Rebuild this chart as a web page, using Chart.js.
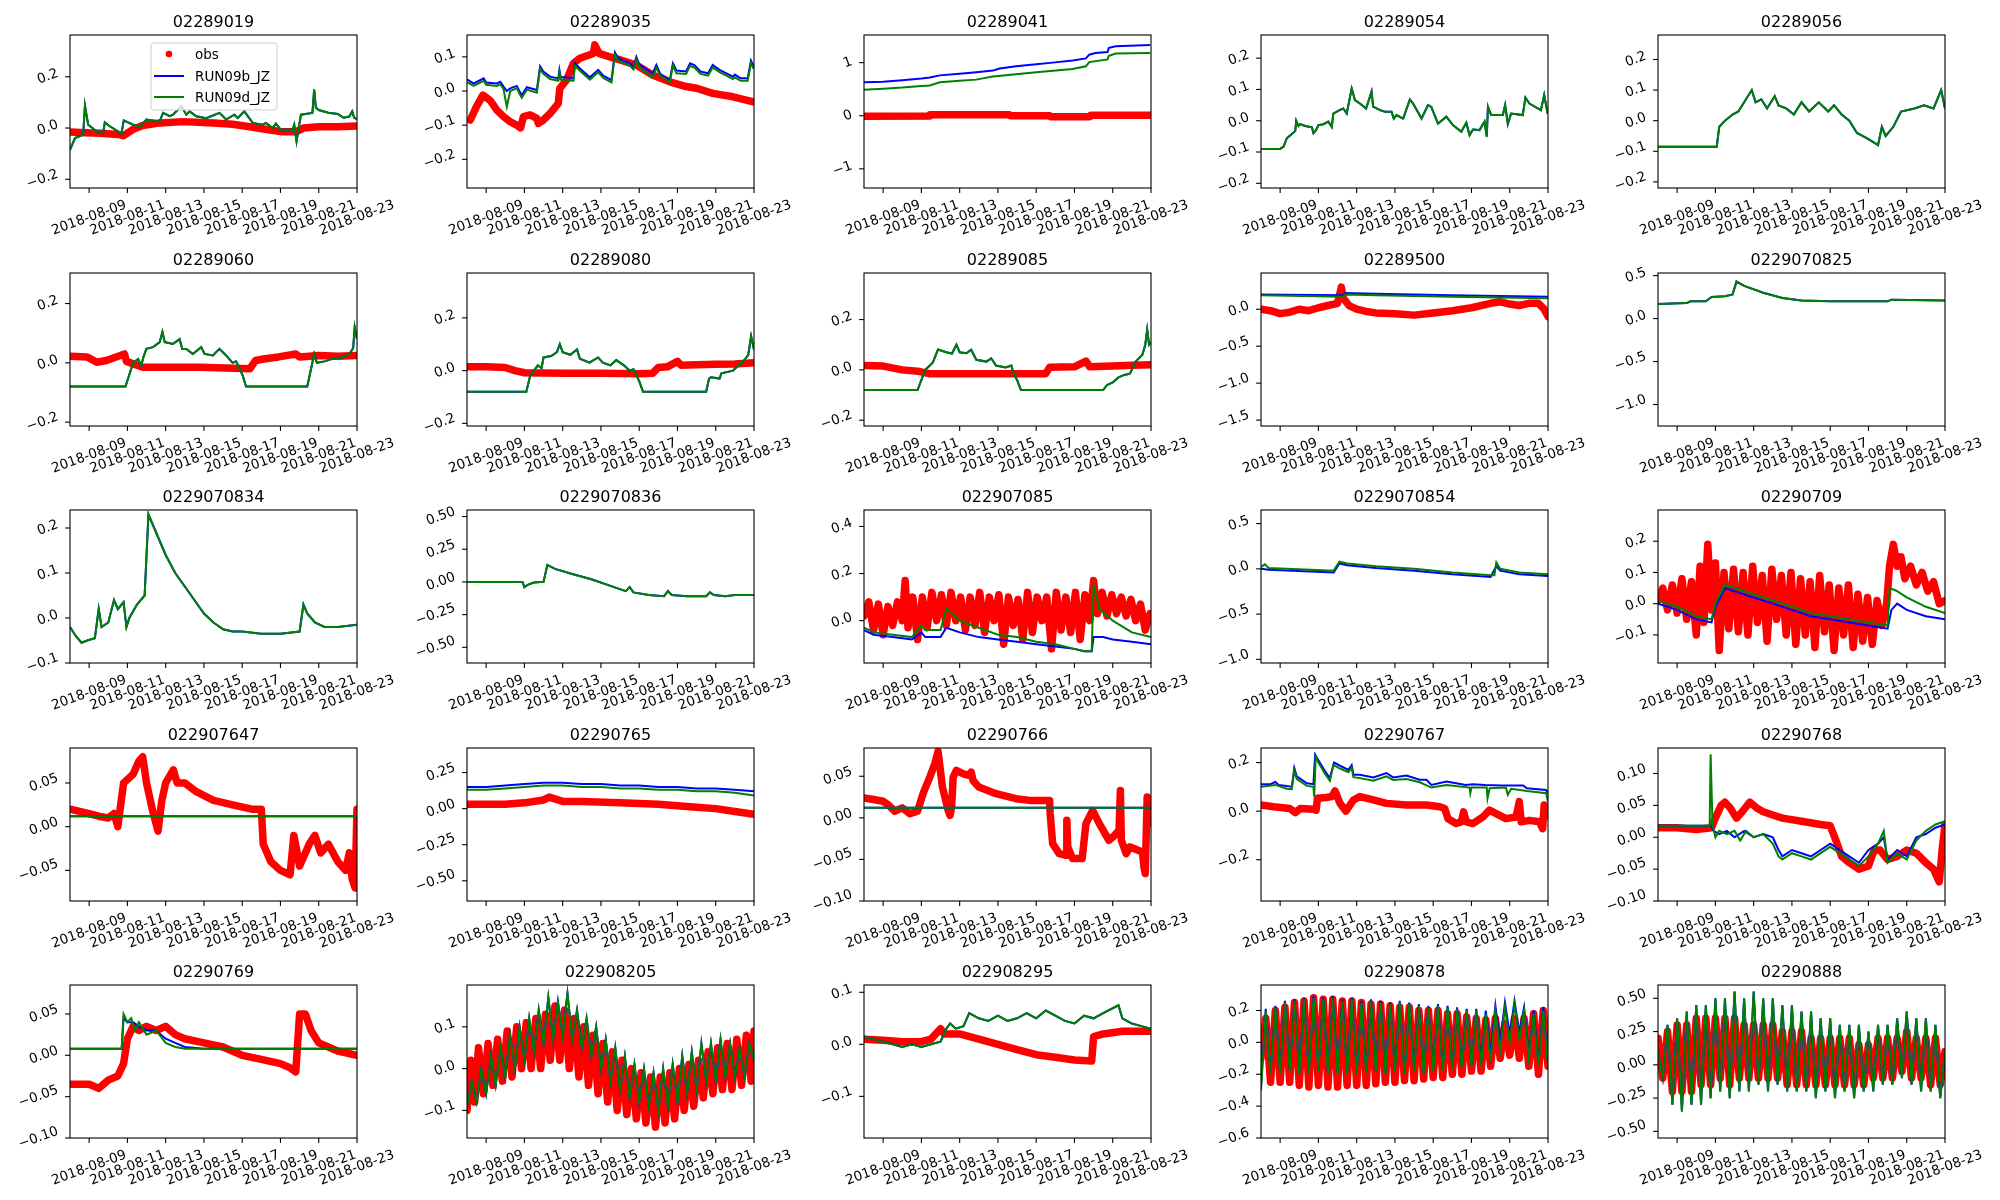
<!DOCTYPE html>
<html>
<head>
<meta charset="utf-8">
<script src="https://cdn.jsdelivr.net/npm/chart.js@4.4.0/dist/chart.umd.min.js"></script>
<style>
  body { margin: 0; background: #fff; width: 2000px; height: 1200px; position: relative; overflow: hidden; }
  canvas { position: absolute; }
</style>
</head>
<body>
<script>
// x values are days since 2018-08-08 00:00
const xTickDays = [1, 3, 5, 7, 9, 11, 13, 15];
const xTickLabels = ["2018-08-09", "2018-08-11", "2018-08-13", "2018-08-15", "2018-08-17", "2018-08-19", "2018-08-21", "2018-08-23"];
const seriesLabels = ["obs", "RUN09b_JZ", "RUN09d_JZ"];

// ---- 02289019
const obs02289019 = [[0,-0.015],[0.8,-0.018],[1.6,-0.02],[2.5,-0.025],[2.8,-0.03],[3.0,-0.02],[3.3,-0.005],[3.8,0.01],[4.7,0.02],[5.9,0.025],[7.5,0.02],[8.5,0.015],[9.4,0.005],[10.2,-0.005],[11.1,-0.015],[11.8,-0.015],[12.2,0.0],[13,0.005],[14,0.005],[15,0.008]];
const d02289019 = [[0,-0.085],[0.26,-0.039],[0.69,-0.026],[0.78,0.088],[0.95,0.013],[1.39,-0.013],[1.74,-0.017],[1.82,0.022],[2.08,0.007],[2.69,-0.022],[2.81,0.03],[3.3,0.013],[3.65,0.004],[3.99,0.033],[4.69,0.026],[4.86,0.059],[5.21,0.046],[5.38,0.052],[5.82,0.085],[6.08,0.052],[6.25,0.065],[6.6,0.046],[7.12,0.038],[7.81,0.059],[8.16,0.033],[8.59,0.052],[8.77,0.039],[9.11,0.065],[9.55,0.02],[10.07,0.013],[10.24,0.02],[10.59,0.0],[10.76,0.017],[11.02,-0.007],[11.63,-0.007],[11.72,0.013],[11.84,-0.052],[12.07,0.052],[12.67,0.059],[12.76,0.15],[12.85,0.08],[13.0,0.07],[13.5,0.06],[14.0,0.055],[14.3,0.04],[14.6,0.045],[14.75,0.065],[14.85,0.04],[15,0.035]];
const b02289019 = d02289019;

// ---- 02289035
const obs02289035 = [[0.17,-0.085],[0.5,-0.045],[0.83,-0.012],[1.2,-0.027],[1.56,-0.056],[1.91,-0.075],[2.26,-0.09],[2.6,-0.1],[2.8,-0.108],[2.95,-0.075],[3.3,-0.07],[3.65,-0.08],[3.73,-0.095],[3.99,-0.085],[4.34,-0.066],[4.77,-0.036],[4.85,0.008],[5.2,0.032],[5.56,0.081],[5.9,0.096],[6.6,0.11],[6.68,0.135],[6.9,0.11],[7.47,0.1],[8.0,0.091],[8.85,0.076],[9.7,0.047],[10.6,0.027],[11.45,0.013],[12.0,0.008],[12.84,-0.007],[13.9,-0.017],[14.92,-0.031]];
const b02289035 = [[0,0.034],[0.35,0.022],[0.87,0.037],[1.0,0.025],[1.56,0.022],[1.74,0.027],[1.91,0.013],[2.08,0.0],[2.26,0.008],[2.6,0.015],[2.86,-0.012],[3.13,0.011],[3.65,0.003],[3.82,0.072],[3.99,0.057],[4.34,0.042],[4.77,0.037],[4.83,0.062],[4.9,0.04],[5.21,0.04],[5.56,0.037],[5.64,0.081],[5.9,0.066],[6.42,0.04],[6.86,0.062],[7.12,0.045],[7.55,0.032],[7.73,0.113],[7.9,0.096],[8.5,0.082],[8.7,0.07],[8.85,0.1],[9.0,0.078],[9.7,0.052],[9.9,0.076],[10.1,0.05],[10.6,0.032],[10.76,0.081],[10.95,0.06],[11.45,0.057],[11.66,0.081],[11.9,0.075],[12.2,0.057],[12.6,0.052],[12.84,0.076],[13.2,0.062],[13.9,0.042],[14.0,0.048],[14.3,0.037],[14.67,0.037],[14.84,0.089],[14.98,0.072]];
const d02289035 = [[0,0.026],[0.35,0.015],[0.87,0.03],[1.0,0.018],[1.56,0.015],[1.74,0.02],[1.91,0.005],[2.08,-0.046],[2.26,0.0],[2.6,0.008],[2.86,-0.02],[3.13,0.004],[3.65,-0.005],[3.82,0.065],[3.99,0.05],[4.34,0.035],[4.77,0.03],[4.83,0.055],[4.9,0.033],[5.21,0.033],[5.56,0.03],[5.64,0.074],[5.9,0.059],[6.42,0.033],[6.86,0.055],[7.12,0.038],[7.55,0.025],[7.73,0.106],[7.9,0.089],[8.5,0.075],[8.7,0.063],[8.85,0.093],[9.0,0.07],[9.7,0.04],[9.9,0.068],[10.1,0.045],[10.6,0.027],[10.76,0.074],[10.95,0.052],[11.45,0.05],[11.66,0.074],[11.9,0.068],[12.2,0.05],[12.6,0.045],[12.84,0.069],[13.2,0.055],[13.9,0.035],[14.0,0.04],[14.3,0.03],[14.67,0.03],[14.84,0.082],[14.98,0.065]];

// ---- 02289041
const obs02289041 = [[0,-0.01],[3.44,-0.005],[3.45,0.02],[7.6,0.02],[7.65,0.0],[9.7,0.0],[9.75,-0.02],[11.8,-0.02],[11.85,0.01],[15,0.01]];
const b02289041 = [[0,0.63],[1,0.64],[2,0.67],[3,0.7],[3.44,0.72],[3.96,0.76],[5.0,0.79],[5.87,0.82],[6.74,0.85],[7.09,0.89],[7.95,0.93],[9.0,0.97],[9.86,1.0],[10.9,1.04],[11.6,1.08],[11.77,1.15],[12.1,1.18],[12.73,1.2],[12.8,1.28],[13.16,1.31],[14.95,1.33]];
const d02289041 = [[0,0.49],[1,0.51],[2,0.53],[3,0.56],[3.44,0.57],[3.96,0.63],[5.0,0.66],[5.87,0.68],[6.74,0.74],[7.95,0.78],[9.0,0.82],[10.9,0.88],[11.6,0.93],[11.77,1.01],[12.73,1.06],[12.8,1.13],[13.16,1.17],[14.95,1.18]];

// ---- 02289054
const obs02289054 = [];
const d02289054 = [[0,-0.09],[1.0,-0.09],[1.18,-0.083],[1.35,-0.056],[1.7,-0.038],[1.79,-0.033],[1.84,0.0],[1.96,-0.017],[2.05,-0.011],[2.31,-0.017],[2.66,-0.021],[2.74,-0.04],[2.88,-0.03],[3.0,-0.014],[3.26,-0.011],[3.52,-0.003],[3.7,-0.02],[3.78,0.023],[4.1,0.034],[4.3,0.039],[4.48,0.023],[4.74,0.103],[4.91,0.066],[5.17,0.055],[5.49,0.039],[5.78,0.093],[5.86,0.045],[6.22,0.034],[6.48,0.029],[6.82,0.029],[6.94,0.007],[7.08,0.018],[7.43,0.007],[7.78,0.068],[7.95,0.055],[8.39,0.007],[8.73,0.05],[8.9,0.044],[9.25,-0.009],[9.69,0.013],[10.03,-0.014],[10.47,-0.035],[10.73,-0.006],[10.9,-0.046],[11.08,-0.028],[11.42,-0.03],[11.68,-0.003],[11.8,-0.051],[11.86,0.045],[12.03,0.018],[12.64,0.018],[12.76,0.05],[12.9,-0.011],[13.07,0.023],[13.68,0.018],[13.82,0.074],[14.03,0.055],[14.63,0.034],[14.8,0.082],[14.98,0.023]];
const b02289054 = d02289054;

// ---- 02289056
const obs02289056 = [];
const d02289056 = [[0,-0.085],[3.07,-0.085],[3.2,-0.02],[3.5,0.0],[3.9,0.02],[4.2,0.03],[4.9,0.1],[5.1,0.06],[5.4,0.07],[5.7,0.04],[6.1,0.08],[6.3,0.05],[6.7,0.04],[7.1,0.02],[7.5,0.06],[7.9,0.03],[8.4,0.06],[8.9,0.03],[9.2,0.05],[9.6,0.02],[10.0,0.0],[10.4,-0.04],[11.0,-0.06],[11.5,-0.08],[11.7,-0.02],[11.9,-0.05],[12.3,-0.02],[12.7,0.03],[13.4,0.04],[13.9,0.05],[14.4,0.04],[14.8,0.1],[15,0.04]];
const b02289056 = d02289056;

// ---- 02289060
const obs02289060 = [[0,0.022],[0.9,0.02],[1.4,0.002],[1.9,0.008],[2.85,0.03],[2.95,0.005],[3.8,-0.015],[5.0,-0.015],[6.8,-0.015],[8.5,-0.018],[9.4,-0.02],[9.7,0.008],[10.2,0.014],[10.9,0.02],[11.8,0.03],[12.0,0.02],[13,0.025],[14,0.022],[15,0.025]];
const d02289060 = [[0,-0.08],[2.9,-0.08],[3.1,-0.04],[3.3,0.0],[3.56,0.013],[3.73,-0.01],[3.82,0.016],[3.99,0.047],[4.34,0.053],[4.69,0.07],[4.83,0.104],[4.95,0.07],[5.38,0.064],[5.73,0.08],[5.87,0.047],[6.08,0.047],[6.42,0.03],[6.86,0.053],[7.03,0.03],[7.47,0.025],[7.81,0.047],[8.16,0.025],[8.5,0.0],[8.68,0.005],[9.03,-0.043],[9.2,-0.08],[12.4,-0.08],[12.6,-0.02],[12.76,0.03],[12.9,0.0],[13.3,0.005],[13.8,0.015],[14.3,0.02],[14.6,0.03],[14.8,0.05],[14.88,0.12],[15,0.08]];
const b02289060 = d02289060;

// ---- 02289080
const obs02289080 = [[0,0.015],[1,0.015],[2,0.012],[2.5,0.0],[3.0,-0.008],[5,-0.01],[7,-0.01],[9,-0.012],[9.7,-0.01],[10.0,0.012],[10.5,0.015],[11.0,0.035],[11.2,0.02],[12,0.022],[13,0.024],[14,0.025],[15,0.03]];
const d02289080 = [[0,-0.08],[3.1,-0.08],[3.3,-0.02],[3.5,0.0],[3.7,0.02],[3.9,0.01],[4.0,0.05],[4.4,0.055],[4.7,0.07],[4.85,0.1],[5.0,0.07],[5.4,0.06],[5.75,0.08],[5.9,0.045],[6.4,0.03],[6.85,0.05],[7.1,0.03],[7.5,0.02],[7.8,0.04],[8.2,0.02],[8.5,0.0],[8.7,0.005],[9.0,-0.04],[9.2,-0.08],[12.5,-0.08],[12.65,-0.03],[12.75,-0.025],[13.2,-0.03],[13.3,-0.01],[13.9,0.0],[14.2,0.02],[14.5,0.04],[14.7,0.06],[14.85,0.13],[15,0.08]];
const b02289080 = d02289080;

// ---- 02289085
const obs02289085 = [[0,0.017],[1,0.015],[2,0.0],[2.8,-0.005],[3.4,-0.015],[6,-0.015],[9.5,-0.015],[9.7,0.01],[11.0,0.012],[11.6,0.035],[11.8,0.012],[13,0.015],[14,0.018],[15,0.02]];
const d02289085 = [[0,-0.08],[2.8,-0.08],[3.0,-0.04],[3.2,0.0],[3.44,0.017],[3.6,0.03],[3.87,0.081],[4.3,0.07],[4.6,0.065],[4.83,0.1],[5.0,0.07],[5.35,0.066],[5.6,0.08],[5.87,0.04],[6.4,0.033],[6.65,0.046],[6.9,0.017],[7.4,0.01],[7.7,0.017],[7.8,-0.01],[8.0,-0.04],[8.2,-0.08],[12.5,-0.08],[12.7,-0.06],[13.0,-0.05],[13.3,-0.03],[13.6,-0.02],[13.9,-0.015],[14.2,0.033],[14.55,0.06],[14.7,0.1],[14.8,0.16],[14.9,0.1],[15,0.11]];
const b02289085 = d02289085;

// ---- 02289500
const obs02289500 = [[0,0.0],[0.5,-0.02],[1.0,-0.06],[1.5,-0.04],[2.0,0.0],[2.5,-0.02],[3.0,0.02],[3.5,0.05],[4.0,0.08],[4.2,0.3],[4.3,0.15],[4.6,0.05],[5,0.0],[5.5,-0.03],[6,-0.05],[7,-0.06],[8,-0.08],[9,-0.05],[10,-0.02],[11,0.02],[12,0.08],[12.5,0.1],[13,0.07],[13.5,0.05],[14,0.08],[14.5,0.08],[14.8,0.0],[15,-0.1]];
const b02289500 = [[0,0.2],[4.3,0.19],[4.4,0.22],[6,0.21],[10,0.19],[15,0.17]];
const d02289500 = [[0,0.19],[4.3,0.17],[4.4,0.2],[6,0.19],[10,0.17],[15,0.15]];

// ---- 0229070825
const obs0229070825 = [];
const d0229070825 = [[0,0.17],[1.5,0.18],[1.7,0.2],[2.5,0.2],[2.8,0.25],[3.5,0.26],[3.9,0.28],[4.1,0.43],[4.5,0.38],[5.5,0.3],[6.5,0.24],[7.5,0.21],[9,0.2],[11,0.2],[12,0.2],[12.2,0.22],[15,0.21]];
const b0229070825 = d0229070825;

// ---- 0229070834
const obs0229070834 = [];
const d0229070834 = [[0,-0.02],[0.3,-0.04],[0.6,-0.055],[0.9,-0.05],[1.3,-0.045],[1.5,0.02],[1.65,-0.02],[2.0,-0.01],[2.3,0.04],[2.5,0.02],[2.8,0.035],[2.95,-0.02],[3.1,0.0],[3.5,0.03],[3.9,0.05],[4.1,0.23],[4.5,0.19],[5,0.14],[5.5,0.1],[6,0.07],[6.5,0.04],[7,0.01],[7.5,-0.01],[8,-0.025],[8.5,-0.03],[9,-0.03],[10,-0.035],[11,-0.035],[12,-0.03],[12.2,0.03],[12.4,0.01],[12.8,-0.01],[13.3,-0.02],[14,-0.02],[15,-0.015]];
const b0229070834 = d0229070834;

// ---- 0229070836
const obs0229070836 = [];
const d0229070836 = [[0,0.0],[2.9,0.0],[3.0,-0.04],[3.2,-0.02],[3.5,-0.005],[4.0,0.0],[4.2,0.13],[4.6,0.1],[5.5,0.06],[6.5,0.02],[7.5,-0.03],[8.3,-0.07],[8.5,-0.04],[8.7,-0.08],[9.5,-0.1],[10.3,-0.11],[10.5,-0.07],[10.7,-0.1],[11.5,-0.11],[12.5,-0.11],[12.7,-0.08],[12.9,-0.1],[13.5,-0.11],[14,-0.1],[15,-0.1]];
const b0229070836 = d0229070836;

// ---- 022907085
const obs022907085 = [[0,0.02],[0.25,0.08],[0.5,-0.04],[0.75,0.07],[1.0,-0.06],[1.25,0.06],[1.5,-0.02],[1.75,0.08],[2.0,0.0],[2.15,0.17],[2.3,-0.03],[2.55,0.1],[2.8,-0.08],[3.05,0.1],[3.3,-0.03],[3.55,0.12],[3.8,0.0],[4.05,0.11],[4.3,-0.02],[4.55,0.12],[4.8,0.0],[5.05,0.1],[5.3,-0.04],[5.55,0.1],[5.8,-0.02],[6.05,0.12],[6.3,-0.05],[6.55,0.1],[6.8,0.0],[7.05,0.11],[7.3,-0.1],[7.55,0.1],[7.8,-0.02],[8.05,0.09],[8.3,-0.08],[8.55,0.12],[8.8,-0.05],[9.05,0.1],[9.3,0.0],[9.55,0.1],[9.8,-0.12],[10.05,0.12],[10.3,-0.04],[10.55,0.1],[10.8,-0.05],[11.05,0.12],[11.3,-0.08],[11.55,0.11],[11.8,0.0],[12.0,0.17],[12.2,0.03],[12.45,0.12],[12.7,0.02],[12.95,0.11],[13.2,0.03],[13.45,0.1],[13.7,0.02],[13.95,0.09],[14.2,0.0],[14.45,0.07],[14.7,-0.04],[14.95,0.03]];
const b022907085 = [[0,-0.04],[0.5,-0.06],[1.5,-0.07],[2.5,-0.08],[3.0,-0.05],[3.2,-0.07],[4.0,-0.07],[4.3,-0.03],[5,-0.05],[6,-0.07],[7,-0.08],[8,-0.09],[9,-0.1],[10,-0.11],[11,-0.12],[11.5,-0.13],[11.9,-0.13],[12.0,-0.07],[12.5,-0.07],[13,-0.08],[14,-0.09],[15,-0.1]];
const d022907085 = [[0,-0.03],[0.5,-0.05],[1.5,-0.06],[2.5,-0.07],[3.0,-0.02],[3.2,-0.04],[4.0,-0.04],[4.3,0.05],[4.6,0.03],[5,0.0],[6,-0.03],[7,-0.06],[8,-0.07],[9,-0.09],[10,-0.1],[11,-0.12],[11.5,-0.13],[11.9,-0.13],[12.0,0.15],[12.3,0.05],[13,0.0],[14,-0.05],[15,-0.07]];

// ---- 0229070854
const obs0229070854 = [];
const b0229070854 = [[0,0.0],[0.4,-0.01],[3.8,-0.04],[4.1,0.06],[4.5,0.04],[6,0.01],[8,-0.02],[10,-0.06],[12,-0.09],[12.3,0.03],[12.5,-0.02],[13.5,-0.06],[15,-0.08]];
const d0229070854 = [[0,0.02],[0.2,0.05],[0.4,0.01],[3.8,-0.02],[4.1,0.08],[4.5,0.06],[6,0.03],[8,0.0],[10,-0.04],[12,-0.07],[12.2,-0.07],[12.3,0.07],[12.5,0.0],[13.5,-0.04],[15,-0.06]];

// ---- 02290709
const obs02290709 = [[0,0.01],[0.25,0.05],[0.5,-0.02],[0.75,0.06],[1.0,-0.03],[1.25,0.08],[1.5,-0.05],[1.75,0.07],[2.0,-0.1],[2.2,0.12],[2.4,-0.06],[2.6,0.19],[2.8,-0.02],[3.0,0.13],[3.2,-0.15],[3.45,0.1],[3.7,-0.08],[3.95,0.11],[4.2,-0.09],[4.45,0.1],[4.7,-0.1],[4.95,0.12],[5.2,-0.06],[5.45,0.09],[5.7,-0.12],[5.95,0.11],[6.2,-0.05],[6.45,0.09],[6.7,-0.1],[6.95,0.1],[7.2,-0.13],[7.45,0.08],[7.7,-0.1],[7.95,0.07],[8.2,-0.14],[8.45,0.09],[8.7,-0.09],[8.95,0.06],[9.2,-0.15],[9.45,0.05],[9.7,-0.1],[9.95,0.06],[10.2,-0.14],[10.45,0.03],[10.7,-0.12],[10.95,0.02],[11.2,-0.13],[11.45,0.01],[11.7,-0.07],[11.95,0.0],[12.1,0.12],[12.3,0.19],[12.5,0.12],[12.7,0.15],[12.9,0.08],[13.2,0.12],[13.5,0.06],[13.8,0.1],[14.1,0.04],[14.4,0.07],[14.7,0.0],[15,0.01]];
const b02290709 = [[0,0.0],[0.5,-0.01],[1.0,-0.02],[2.0,-0.05],[2.8,-0.06],[3.0,-0.01],[3.5,0.05],[4.0,0.04],[5,0.02],[6,0.0],[7,-0.02],[8,-0.04],[9,-0.05],[10,-0.06],[11,-0.07],[12,-0.08],[12.2,-0.02],[12.5,0.0],[13,-0.02],[14,-0.04],[15,-0.05]];
const d02290709 = [[0,0.01],[0.5,0.0],[1.0,-0.01],[2.0,-0.04],[2.8,-0.05],[3.0,0.0],[3.5,0.06],[4.0,0.05],[5,0.03],[6,0.01],[7,-0.01],[8,-0.03],[9,-0.04],[10,-0.05],[11,-0.06],[12,-0.07],[12.1,0.05],[12.5,0.04],[13,0.02],[14,-0.01],[15,-0.03]];

// ---- 022907647
const obs022907647 = [[0,0.02],[1,0.015],[1.5,0.012],[2,0.01],[2.3,0.015],[2.5,0.0],[2.8,0.05],[3.3,0.06],[3.6,0.075],[3.8,0.08],[4.0,0.05],[4.3,0.02],[4.6,-0.005],[4.8,0.03],[5.0,0.05],[5.4,0.065],[5.6,0.05],[6.0,0.05],[6.6,0.04],[7.5,0.03],[8.5,0.025],[9.5,0.02],[10.0,0.02],[10.1,-0.02],[10.5,-0.04],[11.0,-0.05],[11.5,-0.055],[11.7,-0.01],[12.0,-0.045],[12.5,-0.02],[12.8,-0.01],[13.1,-0.03],[13.5,-0.02],[14.0,-0.04],[14.4,-0.05],[14.6,-0.03],[14.75,-0.06],[14.9,-0.07],[15,0.02]];
const d022907647 = [[0,0.012],[15,0.012]];
const b022907647 = d022907647;

// ---- 02290765
const obs02290765 = [[0,0.03],[2,0.03],[3,0.04],[4,0.06],[4.3,0.08],[5,0.05],[6,0.05],[8,0.04],[10,0.03],[12,0.01],[13,0.0],[14,-0.02],[15,-0.04]];
const b02290765 = [[0,0.15],[1,0.15],[2,0.16],[3,0.17],[4,0.18],[5,0.18],[6,0.17],[7,0.17],[8,0.16],[9,0.16],[10,0.15],[11,0.15],[12,0.14],[13,0.14],[14,0.13],[15,0.12]];
const d02290765 = [[0,0.13],[1,0.13],[2,0.14],[3,0.15],[4,0.16],[5,0.16],[6,0.15],[7,0.15],[8,0.14],[9,0.14],[10,0.13],[11,0.13],[12,0.12],[13,0.12],[14,0.11],[15,0.09]];

// ---- 02290766
const obs02290766 = [[0,0.024],[0.5,0.022],[1,0.02],[1.3,0.015],[1.6,0.008],[2.0,0.012],[2.4,0.005],[2.8,0.008],[3.1,0.03],[3.44,0.049],[3.7,0.065],[3.87,0.08],[3.95,0.065],[4.1,0.037],[4.4,0.009],[4.5,0.003],[4.58,0.013],[4.66,0.049],[4.83,0.057],[5.2,0.053],[5.5,0.051],[5.6,0.055],[5.7,0.045],[6.0,0.037],[6.9,0.029],[7.95,0.023],[8.65,0.021],[9.7,0.021],[9.73,0.005],[9.86,-0.031],[10.2,-0.043],[10.56,-0.045],[10.6,-0.003],[10.65,-0.035],[10.9,-0.049],[11.4,-0.049],[11.6,-0.007],[11.95,0.009],[12.3,-0.007],[12.8,-0.027],[13.1,-0.021],[13.33,-0.015],[13.4,0.033],[13.45,-0.027],[13.7,-0.043],[13.9,-0.035],[14.55,-0.041],[14.63,-0.059],[14.7,-0.067],[14.8,0.025],[14.9,-0.007],[15,0.01]];
const d02290766 = [[0,0.012],[15,0.012]];
const b02290766 = d02290766;

// ---- 02290767
const obs02290767 = [[0,0.025],[0.66,0.018],[1.5,0.011],[1.8,-0.006],[2.05,0.011],[2.74,0.008],[2.88,0.004],[2.95,0.053],[3.4,0.056],[3.7,0.06],[3.87,0.083],[4.13,0.032],[4.44,0.0],[4.83,0.046],[5.17,0.06],[5.87,0.046],[6.56,0.032],[7.6,0.025],[8.65,0.025],[9.34,0.018],[9.6,0.011],[9.77,-0.031],[10.2,-0.051],[10.47,-0.044],[10.59,-0.003],[10.73,-0.044],[11.07,-0.051],[11.6,-0.024],[11.94,0.004],[12.29,-0.01],[12.8,-0.031],[13.33,-0.024],[13.5,0.039],[13.6,-0.044],[14.03,-0.038],[14.55,-0.044],[14.72,-0.072],[14.8,0.025],[14.9,-0.02]];
const b02290767 = [[0,0.111],[0.5,0.111],[0.75,0.12],[0.92,0.108],[1.35,0.104],[1.61,0.1],[1.74,0.178],[1.87,0.143],[2.4,0.115],[2.74,0.111],[2.83,0.233],[3.0,0.21],[3.35,0.164],[3.6,0.136],[3.82,0.2],[4.05,0.19],[4.57,0.17],[4.74,0.19],[4.83,0.15],[5.17,0.15],[5.87,0.139],[6.56,0.157],[6.9,0.139],[7.6,0.147],[8.3,0.129],[8.65,0.129],[8.9,0.108],[9.7,0.122],[10.2,0.115],[10.7,0.108],[11.07,0.111],[11.7,0.108],[12.6,0.106],[13.7,0.106],[13.9,0.094],[14.9,0.087],[15,0.074]];
const d02290767 = [[0,0.1],[0.75,0.108],[1.35,0.092],[1.61,0.09],[1.74,0.167],[1.87,0.132],[2.4,0.104],[2.74,0.1],[2.78,0.06],[2.86,0.226],[3.0,0.2],[3.35,0.153],[3.6,0.125],[3.78,0.19],[4.05,0.178],[4.57,0.16],[4.74,0.18],[4.83,0.14],[5.17,0.136],[5.87,0.125],[6.56,0.143],[6.9,0.128],[7.6,0.132],[8.3,0.119],[8.9,0.097],[9.7,0.108],[10.9,0.097],[10.94,0.074],[11.0,0.097],[11.8,0.097],[11.84,0.053],[11.95,0.094],[12.8,0.097],[12.9,0.067],[13.07,0.092],[13.9,0.083],[14.9,0.074],[15,0.039]];

// ---- 02290768
const obs02290768 = [[0,0.015],[1,0.015],[2,0.012],[2.8,0.015],[3.0,0.03],[3.3,0.05],[3.5,0.055],[3.8,0.045],[4.1,0.03],[4.4,0.04],[4.8,0.055],[5.2,0.045],[5.5,0.04],[6.0,0.035],[6.5,0.03],[7.5,0.025],[8.5,0.02],[9.0,0.018],[9.3,-0.005],[9.6,-0.03],[10.0,-0.04],[10.5,-0.05],[11.0,-0.045],[11.3,-0.02],[11.6,-0.02],[12.0,-0.035],[12.5,-0.03],[13.0,-0.02],[13.5,-0.025],[14.0,-0.04],[14.4,-0.05],[14.7,-0.07],[14.85,-0.02],[15,0.02]];
const b02290768 = [[0,0.018],[2.8,0.018],[2.9,0.01],[3.2,0.005],[3.6,0.01],[4.0,0.0],[4.5,0.01],[5.0,0.0],[5.5,0.005],[6.0,0.0],[6.3,-0.02],[6.5,-0.03],[7.0,-0.02],[7.5,-0.025],[8.0,-0.03],[8.5,-0.02],[9.0,-0.01],[9.5,-0.02],[10.0,-0.03],[10.5,-0.04],[11.0,-0.02],[11.5,-0.01],[11.8,0.0],[12.0,-0.035],[12.5,-0.02],[13.0,-0.03],[13.5,0.0],[14.0,0.005],[14.5,0.015],[15,0.02]];
const d02290768 = [[0,0.018],[2.7,0.018],[2.75,0.13],[2.85,0.02],[3.0,0.0],[3.2,0.01],[3.6,0.005],[4.0,0.01],[4.3,-0.005],[4.6,0.01],[5.0,0.0],[5.5,0.005],[6.0,-0.01],[6.3,-0.03],[6.5,-0.035],[7.0,-0.025],[7.5,-0.03],[8.0,-0.035],[8.5,-0.025],[9.0,-0.015],[9.5,-0.025],[10.0,-0.035],[10.5,-0.045],[11.0,-0.03],[11.5,-0.01],[11.8,0.01],[12.0,-0.04],[12.5,-0.025],[13.0,-0.035],[13.5,-0.005],[14.0,0.01],[14.5,0.02],[15,0.025]];

// ---- 02290769
const obs02290769 = [[0,-0.035],[1,-0.035],[1.5,-0.04],[2.0,-0.03],[2.5,-0.025],[2.8,-0.01],[3.0,0.02],[3.3,0.035],[3.6,0.03],[4,0.035],[4.5,0.03],[5.0,0.035],[5.5,0.025],[6,0.02],[7,0.015],[8,0.01],[9,0.0],[10,-0.005],[11,-0.01],[11.5,-0.015],[11.8,-0.02],[12.0,0.05],[12.3,0.05],[12.6,0.03],[13,0.015],[13.5,0.01],[14,0.005],[15,0.0]];
const b02290769 = [[0,0.008],[2.7,0.008],[2.8,0.045],[3.0,0.04],[3.3,0.04],[3.6,0.035],[4.0,0.03],[4.5,0.03],[5.0,0.02],[5.5,0.015],[6.0,0.01],[7,0.008],[15,0.008]];
const d02290769 = [[0,0.008],[2.7,0.008],[2.8,0.05],[3.0,0.04],[3.2,0.045],[3.4,0.03],[3.6,0.04],[4.0,0.025],[4.5,0.03],[5.0,0.015],[5.5,0.01],[6.0,0.008],[15,0.008]];

// ---- 022908205
const obs022908205 = [[0,-0.1],[0.2,0.02],[0.4,-0.08],[0.6,0.05],[0.85,-0.06],[1.1,0.06],[1.35,-0.04],[1.6,0.07],[1.85,-0.03],[2.1,0.09],[2.35,-0.02],[2.6,0.1],[2.85,0.0],[3.1,0.11],[3.35,0.0],[3.6,0.12],[3.85,0.0],[4.1,0.13],[4.35,0.02],[4.6,0.15],[4.85,0.02],[5.1,0.14],[5.35,0.0],[5.6,0.12],[5.85,-0.02],[6.1,0.1],[6.35,-0.04],[6.6,0.08],[6.85,-0.06],[7.1,0.06],[7.35,-0.08],[7.6,0.04],[7.85,-0.1],[8.1,0.02],[8.35,-0.11],[8.6,0.0],[8.85,-0.12],[9.1,-0.01],[9.35,-0.13],[9.6,-0.02],[9.85,-0.14],[10.1,-0.02],[10.35,-0.13],[10.6,-0.01],[10.85,-0.12],[11.1,0.0],[11.35,-0.1],[11.6,0.01],[11.85,-0.09],[12.1,0.02],[12.35,-0.07],[12.6,0.04],[12.85,-0.06],[13.1,0.05],[13.35,-0.05],[13.6,0.06],[13.85,-0.05],[14.1,0.07],[14.35,-0.04],[14.6,0.08],[14.85,-0.03],[15,0.09]];
const d022908205 = [[0,-0.09],[0.25,-0.03],[0.5,-0.08],[0.75,0.0],[1.0,-0.06],[1.25,0.03],[1.5,-0.04],[1.75,0.05],[2.0,-0.02],[2.25,0.08],[2.5,0.0],[2.75,0.1],[3.0,0.02],[3.25,0.12],[3.5,0.04],[3.75,0.14],[4.0,0.06],[4.25,0.17],[4.5,0.07],[4.75,0.16],[5.0,0.08],[5.25,0.18],[5.5,0.07],[5.75,0.14],[6.0,0.05],[6.25,0.12],[6.5,0.03],[6.75,0.1],[7.0,0.0],[7.25,0.07],[7.5,-0.03],[7.75,0.05],[8.0,-0.05],[8.25,0.03],[8.5,-0.07],[8.75,0.01],[9.0,-0.08],[9.25,0.0],[9.5,-0.09],[9.75,-0.01],[10.0,-0.1],[10.25,0.0],[10.5,-0.09],[10.75,0.01],[11.0,-0.08],[11.25,0.03],[11.5,-0.06],[11.75,0.04],[12.0,-0.05],[12.25,0.06],[12.5,-0.03],[12.75,0.06],[13.0,-0.03],[13.25,0.07],[13.5,-0.02],[13.75,0.06],[14.0,-0.02],[14.25,0.05],[14.5,-0.02],[14.75,0.06],[15,0.02]];
const b022908205 = d022908205;

// ---- 022908295
const obs022908295 = [[0,0.01],[1,0.008],[2,0.005],[3,0.005],[3.5,0.01],[4.0,0.03],[4.2,0.02],[5,0.02],[6,0.01],[7,0.0],[8,-0.01],[9,-0.02],[10,-0.025],[11,-0.03],[11.9,-0.032],[12.0,0.015],[12.5,0.02],[13.5,0.025],[15,0.025]];
const d022908295 = [[0,0.015],[0.5,0.01],[1,0.005],[1.5,0.0],[2,-0.005],[2.5,0.0],[3,-0.005],[3.5,0.0],[4,0.005],[4.3,0.03],[4.5,0.04],[4.8,0.03],[5.2,0.035],[5.5,0.06],[6,0.05],[6.5,0.045],[7,0.055],[7.5,0.045],[8,0.05],[8.5,0.06],[9,0.05],[9.5,0.065],[10,0.055],[10.5,0.045],[11,0.04],[11.5,0.055],[12,0.05],[12.5,0.06],[13.3,0.075],[13.5,0.05],[14,0.04],[14.5,0.035],[15,0.03]];
const b022908295 = d022908295;

// ---- 02290878
const obs02290878 = [[0,-0.1],[0.25,0.15],[0.5,-0.25],[0.75,0.2],[1,-0.25],[1.25,0.22],[1.5,-0.25],[1.75,0.25],[2,-0.27],[2.25,0.26],[2.5,-0.28],[2.75,0.28],[3,-0.27],[3.25,0.27],[3.5,-0.28],[3.75,0.27],[4,-0.28],[4.25,0.26],[4.5,-0.27],[4.75,0.26],[5,-0.27],[5.25,0.25],[5.5,-0.27],[5.75,0.24],[6,-0.26],[6.25,0.24],[6.5,-0.25],[6.75,0.23],[7,-0.25],[7.25,0.22],[7.5,-0.24],[7.75,0.22],[8,-0.24],[8.25,0.2],[8.5,-0.23],[8.75,0.2],[9,-0.22],[9.25,0.2],[9.5,-0.22],[9.75,0.18],[10,-0.2],[10.25,0.18],[10.5,-0.2],[10.75,0.16],[11,-0.18],[11.25,0.15],[11.5,-0.18],[11.75,0.14],[12,-0.15],[12.25,0.15],[12.5,-0.1],[12.75,0.12],[13,-0.08],[13.25,0.15],[13.5,-0.1],[13.75,0.15],[14,-0.15],[14.25,0.18],[14.5,-0.2],[14.75,0.2],[15,-0.15]];
const b02290878 = [[0,-0.28],[0.25,0.21],[0.5,-0.19],[0.75,0.23],[1,-0.19],[1.25,0.26],[1.5,-0.17],[1.75,0.27],[2,-0.19],[2.25,0.28],[2.5,-0.19],[2.75,0.29],[3,-0.17],[3.25,0.28],[3.5,-0.19],[3.75,0.29],[4,-0.19],[4.25,0.27],[4.5,-0.19],[4.75,0.28],[5,-0.19],[5.25,0.26],[5.5,-0.19],[5.75,0.27],[6,-0.17],[6.25,0.26],[6.5,-0.19],[6.75,0.25],[7,-0.17],[7.25,0.26],[7.5,-0.19],[7.75,0.25],[8,-0.17],[8.25,0.24],[8.5,-0.19],[8.75,0.23],[9,-0.17],[9.25,0.24],[9.5,-0.17],[9.75,0.23],[10,-0.16],[10.25,0.22],[10.5,-0.15],[10.75,0.21],[11,-0.14],[11.25,0.21],[11.5,-0.13],[11.75,0.2],[12,-0.08],[12.25,0.23],[12.5,0.0],[12.75,0.25],[13,0.05],[13.25,0.26],[13.5,0.06],[13.75,0.22],[14,-0.08],[14.25,0.2],[14.5,-0.13],[14.75,0.22],[15,-0.13]];
const d02290878 = [[0,-0.3],[0.25,0.2],[0.5,-0.2],[0.75,0.22],[1,-0.2],[1.25,0.25],[1.5,-0.18],[1.75,0.26],[2,-0.2],[2.25,0.27],[2.5,-0.2],[2.75,0.28],[3,-0.18],[3.25,0.27],[3.5,-0.2],[3.75,0.28],[4,-0.2],[4.25,0.26],[4.5,-0.2],[4.75,0.27],[5,-0.2],[5.25,0.25],[5.5,-0.2],[5.75,0.26],[6,-0.18],[6.25,0.25],[6.5,-0.2],[6.75,0.24],[7,-0.18],[7.25,0.25],[7.5,-0.2],[7.75,0.24],[8,-0.18],[8.25,0.23],[8.5,-0.2],[8.75,0.22],[9,-0.18],[9.25,0.23],[9.5,-0.18],[9.75,0.22],[10,-0.17],[10.25,0.21],[10.5,-0.16],[10.75,0.2],[11,-0.15],[11.25,0.2],[11.5,-0.15],[11.75,0.18],[12,-0.12],[12.25,0.2],[12.5,-0.05],[12.75,0.22],[13,0.0],[13.25,0.24],[13.5,0.02],[13.75,0.2],[14,-0.1],[14.25,0.18],[14.5,-0.15],[14.75,0.2],[15,-0.15]];

// ---- 02290888
const obs02290888 = [[0,0.2],[0.25,-0.1],[0.5,0.25],[0.75,-0.2],[1,0.3],[1.25,-0.2],[1.5,0.3],[1.75,-0.2],[2,0.35],[2.25,-0.15],[2.5,0.35],[2.75,-0.15],[3,0.35],[3.25,-0.1],[3.5,0.35],[3.75,-0.15],[4,0.35],[4.25,-0.1],[4.5,0.3],[4.75,-0.1],[5,0.3],[5.25,-0.1],[5.5,0.3],[5.75,-0.1],[6,0.3],[6.25,-0.1],[6.5,0.25],[6.75,-0.15],[7,0.25],[7.25,-0.15],[7.5,0.25],[7.75,-0.15],[8,0.2],[8.25,-0.15],[8.5,0.2],[8.75,-0.15],[9,0.2],[9.25,-0.15],[9.5,0.2],[9.75,-0.15],[10,0.2],[10.25,-0.15],[10.5,0.15],[10.75,-0.15],[11,0.15],[11.25,-0.1],[11.5,0.2],[11.75,-0.1],[12,0.2],[12.25,-0.1],[12.5,0.2],[12.75,-0.05],[13,0.25],[13.25,-0.1],[13.5,0.2],[13.75,-0.1],[14,0.2],[14.25,-0.15],[14.5,0.2],[14.75,-0.15],[15,0.1]];
const d02290888 = [[0,0.1],[0.25,-0.1],[0.5,0.3],[0.75,-0.3],[1,0.35],[1.25,-0.35],[1.5,0.4],[1.75,-0.3],[2,0.45],[2.25,-0.3],[2.5,0.45],[2.75,-0.25],[3,0.5],[3.25,-0.2],[3.5,0.5],[3.75,-0.25],[4,0.55],[4.25,-0.2],[4.5,0.5],[4.75,-0.2],[5,0.55],[5.25,-0.15],[5.5,0.5],[5.75,-0.2],[6,0.5],[6.25,-0.15],[6.5,0.45],[6.75,-0.2],[7,0.45],[7.25,-0.2],[7.5,0.4],[7.75,-0.2],[8,0.4],[8.25,-0.25],[8.5,0.35],[8.75,-0.2],[9,0.35],[9.25,-0.25],[9.5,0.3],[9.75,-0.2],[10,0.3],[10.25,-0.25],[10.5,0.3],[10.75,-0.2],[11,0.25],[11.25,-0.2],[11.5,0.3],[11.75,-0.15],[12,0.3],[12.25,-0.15],[12.5,0.35],[12.75,-0.1],[13,0.4],[13.25,-0.15],[13.5,0.35],[13.75,-0.2],[14,0.35],[14.25,-0.2],[14.5,0.3],[14.75,-0.25],[15,0.1]];
const b02290888 = d02290888;

// panel list: name, series, y range, y ticks, tick decimals
const panels = [
  { name: "02289019", obs: obs02289019, b: b02289019, d: d02289019, ylim: [-0.234, 0.363], yticks: [-0.2, 0, 0.2], dec: 1 },
  { name: "02289035", obs: obs02289035, b: b02289035, d: d02289035, ylim: [-0.284, 0.164], yticks: [-0.2, -0.1, 0, 0.1], dec: 1 },
  { name: "02289041", obs: obs02289041, b: b02289041, d: d02289041, ylim: [-1.36, 1.52], yticks: [-1, 0, 1], dec: 0 },
  { name: "02289054", obs: obs02289054, b: b02289054, d: d02289054, ylim: [-0.215, 0.274], yticks: [-0.2, -0.1, 0, 0.1, 0.2], dec: 1 },
  { name: "02289056", obs: obs02289056, b: b02289056, d: d02289056, ylim: [-0.22, 0.28], yticks: [-0.2, -0.1, 0, 0.1, 0.2], dec: 1 },
  { name: "02289060", obs: obs02289060, b: b02289060, d: d02289060, ylim: [-0.213, 0.303], yticks: [-0.2, 0, 0.2], dec: 1 },
  { name: "02289080", obs: obs02289080, b: b02289080, d: d02289080, ylim: [-0.21, 0.37], yticks: [-0.2, 0, 0.2], dec: 1 },
  { name: "02289085", obs: obs02289085, b: b02289085, d: d02289085, ylim: [-0.223, 0.385], yticks: [-0.2, 0, 0.2], dec: 1 },
  { name: "02289500", obs: obs02289500, b: b02289500, d: d02289500, ylim: [-1.58, 0.49], yticks: [-1.5, -1, -0.5, 0], dec: 1 },
  { name: "0229070825", obs: obs0229070825, b: b0229070825, d: d0229070825, ylim: [-1.25, 0.53], yticks: [-1, -0.5, 0, 0.5], dec: 1 },
  { name: "0229070834", obs: obs0229070834, b: b0229070834, d: d0229070834, ylim: [-0.1, 0.24], yticks: [-0.1, 0, 0.1, 0.2], dec: 1 },
  { name: "0229070836", obs: obs0229070836, b: b0229070836, d: d0229070836, ylim: [-0.62, 0.55], yticks: [-0.5, -0.25, 0, 0.25, 0.5], dec: 2 },
  { name: "022907085", obs: obs022907085, b: b022907085, d: d022907085, ylim: [-0.18, 0.47], yticks: [0, 0.2, 0.4], dec: 1 },
  { name: "0229070854", obs: obs0229070854, b: b0229070854, d: d0229070854, ylim: [-1.04, 0.65], yticks: [-1, -0.5, 0, 0.5], dec: 1 },
  { name: "02290709", obs: obs02290709, b: b02290709, d: d02290709, ylim: [-0.19, 0.3], yticks: [-0.1, 0, 0.1, 0.2], dec: 1 },
  { name: "022907647", obs: obs022907647, b: b022907647, d: d022907647, ylim: [-0.085, 0.09], yticks: [-0.05, 0, 0.05], dec: 2 },
  { name: "02290765", obs: obs02290765, b: b02290765, d: d02290765, ylim: [-0.64, 0.42], yticks: [-0.5, -0.25, 0, 0.25], dec: 2 },
  { name: "02290766", obs: obs02290766, b: b02290766, d: d02290766, ylim: [-0.1, 0.084], yticks: [-0.1, -0.05, 0, 0.05], dec: 2 },
  { name: "02290767", obs: obs02290767, b: b02290767, d: d02290767, ylim: [-0.37, 0.26], yticks: [-0.2, 0, 0.2], dec: 1 },
  { name: "02290768", obs: obs02290768, b: b02290768, d: d02290768, ylim: [-0.1, 0.14], yticks: [-0.1, -0.05, 0, 0.05, 0.1], dec: 2 },
  { name: "02290769", obs: obs02290769, b: b02290769, d: d02290769, ylim: [-0.1, 0.085], yticks: [-0.1, -0.05, 0, 0.05], dec: 2 },
  { name: "022908205", obs: obs022908205, b: b022908205, d: d022908205, ylim: [-0.166, 0.2], yticks: [-0.1, 0, 0.1], dec: 1 },
  { name: "022908295", obs: obs022908295, b: b022908295, d: d022908295, ylim: [-0.18, 0.114], yticks: [-0.1, 0, 0.1], dec: 1 },
  { name: "02290878", obs: obs02290878, b: b02290878, d: d02290878, ylim: [-0.6, 0.36], yticks: [-0.6, -0.4, -0.2, 0, 0.2], dec: 1 },
  { name: "02290888", obs: obs02290888, b: b02290888, d: d02290888, ylim: [-0.55, 0.6], yticks: [-0.5, -0.25, 0, 0.25, 0.5], dec: 2 },
];

// grid geometry (axes boxes)
const colLeft = [70, 467, 864, 1261, 1658];
const rowTop = [35, 272.5, 510, 747.5, 985];
const axW = 287, axH = 153;
const pad = { left: 80, top: 32, right: 55, bottom: 70 };

const FONT = '"DejaVu Sans", "Liberation Sans", sans-serif';
const ANG = 20 * Math.PI / 180;

function fmtTick(v, dec) {
  const s = Math.abs(v).toFixed(dec);
  return (v < 0 ? "\u2212" : "") + s;
}

const mplAxes = {
  id: "mplAxes",
  afterDraw(chart, args, opts) {
    const { ctx, chartArea: a, scales } = chart;
    const p = opts.panel;
    ctx.save();
    ctx.strokeStyle = "#000";
    ctx.lineWidth = 1.1;
    ctx.strokeRect(a.left, a.top, a.right - a.left, a.bottom - a.top);

    ctx.fillStyle = "#000";
    ctx.font = "13.5px " + FONT;
    const th = 15;

    // x ticks
    xTickDays.forEach((d, i) => {
      const px = scales.x.getPixelForValue(d);
      ctx.beginPath();
      ctx.moveTo(px, a.bottom);
      ctx.lineTo(px, a.bottom + 4.9);
      ctx.stroke();
      const w = ctx.measureText(xTickLabels[i]).width;
      const H = w * Math.sin(ANG) + th * Math.cos(ANG);
      ctx.save();
      ctx.translate(px, a.bottom + 9.5 + H / 2);
      ctx.rotate(-ANG);
      ctx.textAlign = "center";
      ctx.textBaseline = "middle";
      ctx.fillText(xTickLabels[i], 0, 0);
      ctx.restore();
    });

    // y ticks
    p.yticks.forEach((v) => {
      const py = scales.y.getPixelForValue(v);
      ctx.beginPath();
      ctx.moveTo(a.left, py);
      ctx.lineTo(a.left - 4.9, py);
      ctx.stroke();
      const lab = fmtTick(v, p.dec);
      const w = ctx.measureText(lab).width;
      const W = w * Math.cos(ANG) + th * Math.sin(ANG);
      ctx.save();
      ctx.translate(a.left - 9.5 - W / 2, py);
      ctx.rotate(-ANG);
      ctx.textAlign = "center";
      ctx.textBaseline = "middle";
      ctx.fillText(lab, 0, 0);
      ctx.restore();
    });

    // title
    ctx.font = "16px " + FONT;
    ctx.textAlign = "center";
    ctx.textBaseline = "alphabetic";
    ctx.fillText(p.name, (a.left + a.right) / 2, a.top - 8.3);

    // legend (first panel only)
    if (opts.legend) {
      const lx = a.left + 81, ly = a.top + 8, lw = 126, lh = 67;
      ctx.beginPath();
      ctx.roundRect(lx, ly, lw, lh, 3);
      ctx.fillStyle = "rgba(255,255,255,0.8)";
      ctx.fill();
      ctx.strokeStyle = "#cccccc";
      ctx.lineWidth = 1;
      ctx.stroke();
      const rows = [a.top + 19, a.top + 41, a.top + 62];
      const cols = ["#ff0000", "#0000ff", "#008000"];
      ctx.font = "13.5px " + FONT;
      ctx.textAlign = "left";
      ctx.textBaseline = "middle";
      rows.forEach((ry, i) => {
        if (i === 0) {
          ctx.beginPath();
          ctx.arc(a.left + 99, ry, 3.3, 0, Math.PI * 2);
          ctx.fillStyle = cols[0];
          ctx.fill();
        } else {
          ctx.beginPath();
          ctx.moveTo(a.left + 84, ry);
          ctx.lineTo(a.left + 114, ry);
          ctx.strokeStyle = cols[i];
          ctx.lineWidth = 2;
          ctx.stroke();
        }
        ctx.fillStyle = "#000";
        ctx.fillText(seriesLabels[i], a.left + 125, ry + 1);
      });
    }
    ctx.restore();
  },
};

panels.forEach((p, i) => {
  const col = i % 5, row = Math.floor(i / 5);
  const cv = document.createElement("canvas");
  cv.width = pad.left + axW + pad.right;
  cv.height = pad.top + axH + pad.bottom;
  cv.style.left = (colLeft[col] - pad.left) + "px";
  cv.style.top = (rowTop[row] - pad.top) + "px";
  document.body.appendChild(cv);

  new Chart(cv, {
    type: "line",
    data: {
      datasets: [
        { label: seriesLabels[0], data: p.obs, borderColor: "#ff0000", backgroundColor: "#ff0000", borderWidth: 7.5,
          pointRadius: 0, borderCapStyle: "round", borderJoinStyle: "round", order: 3, clip: 0 },
        { label: seriesLabels[1], data: p.b, borderColor: "#0000ff", borderWidth: 2, pointRadius: 0, order: 2, clip: 0 },
        { label: seriesLabels[2], data: p.d, borderColor: "#008000", borderWidth: 2, pointRadius: 0, order: 1, clip: 0 },
      ],
    },
    options: {
      responsive: false,
      animation: false,
      devicePixelRatio: 1,
      layout: { padding: pad },
      scales: {
        x: { type: "linear", min: 0, max: 15, display: false },
        y: { type: "linear", min: p.ylim[0], max: p.ylim[1], display: false },
      },
      plugins: {
        legend: { display: false },
        tooltip: { enabled: false },
        mplAxes: { panel: p, legend: i === 0 },
      },
    },
    plugins: [mplAxes],
  });
});
</script>
</body>
</html>
